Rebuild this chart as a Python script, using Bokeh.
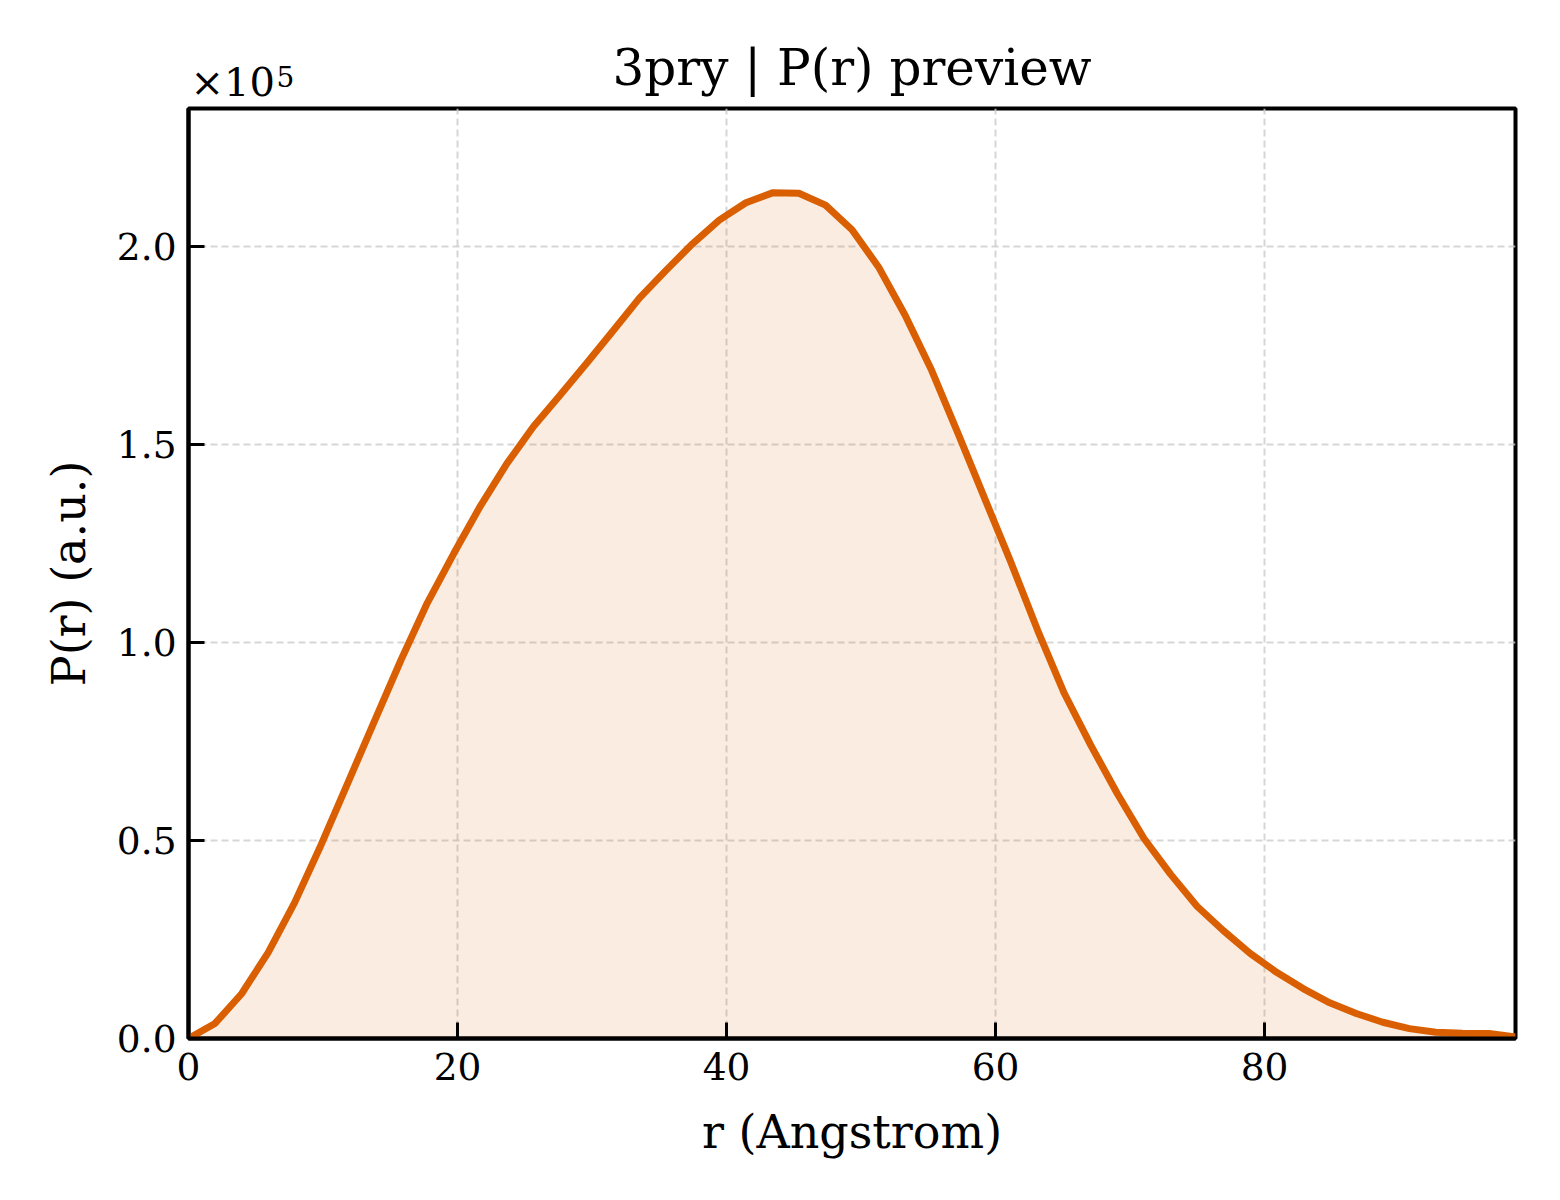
from bokeh.plotting import figure
from bokeh.models import Range1d, FixedTicker, CustomJSTickFormatter, Title
from bokeh.embed import file_html
from bokeh.resources import INLINE

# r (Angstrom) sample positions
r_values = [0.00, 1.97, 3.95, 5.92, 7.89, 9.87, 11.84, 13.81, 15.79, 17.76,
            19.73, 21.71, 23.68, 25.65, 27.62, 29.60, 31.57, 33.54, 35.52, 37.49,
            39.46, 41.44, 43.41, 45.38, 47.36, 49.33, 51.30, 53.28, 55.25, 57.22,
            59.20, 61.17, 63.14, 65.12, 67.09, 69.06, 71.04, 73.01, 74.98, 76.95,
            78.93, 80.90, 82.87, 84.85, 86.82, 88.79, 90.77, 92.74, 94.71, 96.69,
            98.66]

# P(r) values (a.u.)
pr_values = [0, 3800, 11300, 21700, 34300, 49000, 64500, 80000, 95500, 110000,
             122500, 134500, 145200, 154500, 162400, 170500, 178700, 187000, 194000, 200700,
             206600, 211000, 213500, 213400, 210400, 204200, 194800, 182600, 168700, 152700,
             136300, 120000, 103000, 87100, 74000, 61800, 50500, 41500, 33400, 27200,
             21500, 16700, 12600, 9000, 6300, 4100, 2500, 1600, 1350, 1250,
             400]

x_ticks = [0, 20, 40, 60, 80]
y_ticks = [0, 50000, 100000, 150000, 200000]
x_max = 98.66
y_max = 234800

TITLE = "3pry | P(r) preview"
X_LABEL = "r (Angstrom)"
Y_LABEL = "P(r) (a.u.)"
OFFSET_BASE = "\u00d710"
OFFSET_EXP = "5"

LINE_COLOR = "#d95f02"
FONT = "DejaVu Serif"

W, H = 1560, 1200
BL, BR, BT, BB = 188, 45, 108, 162

p = figure(width=W, height=H, output_backend="svg", toolbar_location=None,
           x_range=Range1d(0, x_max), y_range=Range1d(0, y_max),
           min_border_left=BL, min_border_right=BR, min_border_top=BT, min_border_bottom=BB)

p.background_fill_color = "white"
p.border_fill_color = "white"
p.outline_line_color = "black"
p.outline_line_width = 4
p.title.text = ""

# stacked title panels (nearest the frame first); negative standoffs let them overlap
offset_base = Title(text=OFFSET_BASE, align="left", offset=2, standoff=8,
                    text_font=FONT, text_font_size="40px", text_font_style="normal",
                    text_color="black")
offset_exp = Title(text=OFFSET_EXP, align="left", offset=88, standoff=-68,
                   text_font=FONT, text_font_size="28px", text_font_style="normal",
                   text_color="black")
main_title = Title(text=TITLE, align="center", standoff=-88,
                   text_font=FONT, text_font_size="50px", text_font_style="normal",
                   text_color="black")
p.add_layout(offset_base, "above")
p.add_layout(offset_exp, "above")
p.add_layout(main_title, "above")

p.varea(x=r_values, y1=0, y2=pr_values, fill_color=LINE_COLOR, fill_alpha=0.12)
p.line(x=r_values, y=pr_values, line_color=LINE_COLOR, line_width=7)

for ax in (p.xaxis[0], p.yaxis[0]):
    ax.axis_line_width = 4
    ax.axis_line_color = "black"
    ax.major_tick_in = 16
    ax.major_tick_out = 0
    ax.major_tick_line_width = 3
    ax.major_tick_line_color = "black"
    ax.minor_tick_line_color = None
    ax.major_label_text_font = FONT
    ax.major_label_text_font_size = "37.5px"
    ax.major_label_text_color = "black"
    ax.axis_label_text_font = FONT
    ax.axis_label_text_font_size = "46px"
    ax.axis_label_text_font_style = "normal"
    ax.axis_label_text_color = "black"

p.xaxis[0].ticker = FixedTicker(ticks=x_ticks)
p.yaxis[0].ticker = FixedTicker(ticks=y_ticks)
p.xaxis[0].axis_label = X_LABEL
p.yaxis[0].axis_label = Y_LABEL
p.xaxis[0].major_label_standoff = 14
p.yaxis[0].major_label_standoff = 12
p.xaxis[0].axis_label_standoff = 22
p.yaxis[0].axis_label_standoff = 18
p.yaxis[0].formatter = CustomJSTickFormatter(code="return (tick / 1e5).toFixed(1);")
p.yaxis[0].major_label_orientation = "horizontal"

for g in (p.xgrid[0], p.ygrid[0]):
    g.grid_line_color = "#cccccc"
    g.grid_line_width = 2
    g.grid_line_alpha = 0.8
    g.grid_line_dash = "7 4"
p.xgrid[0].ticker = FixedTicker(ticks=x_ticks)
p.ygrid[0].ticker = FixedTicker(ticks=y_ticks)

open("out.html", "w").write(file_html(p, INLINE))
